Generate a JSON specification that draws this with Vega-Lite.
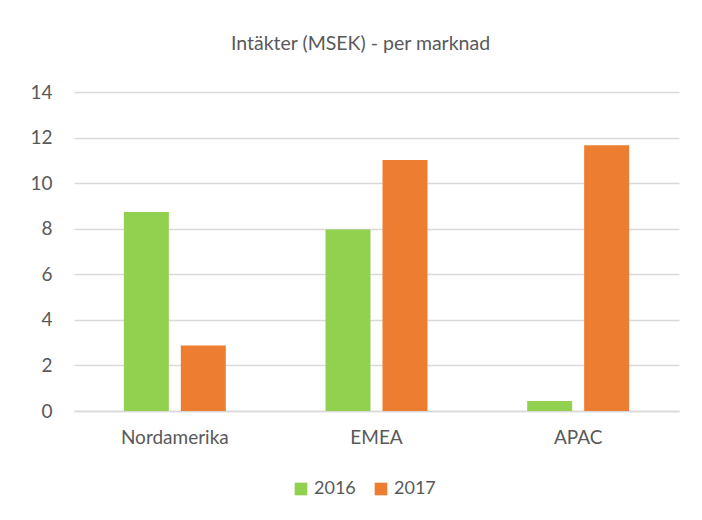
{
  "$schema": "https://vega.github.io/schema/vega-lite/v6.json",
  "autosize": "none",
  "width": 605,
  "height": 319,
  "padding": {"left": 74, "top": 92, "right": 23, "bottom": 109},
  "background": "white",
  "title": {"text": "Intäkter (MSEK) - per marknad", "font": "Lato", "fontSize": 19.5, "fontWeight": "normal", "color": "#595959", "anchor": "middle", "dx": -16, "offset": 29},
  "data": {"values": [
    {"marknad": "Nordamerika", "year": "2016", "value": 8.73},
    {"marknad": "Nordamerika", "year": "2017", "value": 2.88},
    {"marknad": "EMEA", "year": "2016", "value": 7.97},
    {"marknad": "EMEA", "year": "2017", "value": 11.02},
    {"marknad": "APAC", "year": "2016", "value": 0.44},
    {"marknad": "APAC", "year": "2017", "value": 11.66}
  ]},
  "mark": {"type": "bar"},
  "encoding": {
    "x": {"field": "marknad", "type": "nominal", "sort": ["Nordamerika", "EMEA", "APAC"],
      "scale": {"paddingInner": 0, "paddingOuter": 0},
      "axis": {"title": null, "labelAngle": 0, "ticks": false, "domain": true, "domainColor": "#d9d9d9", "domainWidth": 1.5, "labelPadding": 17, "labelFont": "Lato", "labelFontSize": 19, "labelColor": "#595959"}},
    "xOffset": {"field": "year", "type": "nominal", "scale": {"paddingInner": 0.2105, "paddingOuter": 0.875}},
    "y": {"field": "value", "type": "quantitative", "scale": {"domain": [0, 14]},
      "axis": {"title": null, "values": [0, 2, 4, 6, 8, 10, 12, 14], "ticks": false, "domain": false, "grid": true, "gridColor": "#d9d9d9", "gridWidth": 1.5, "labelPadding": 22, "labelFont": "Lato", "labelFontSize": 19, "labelColor": "#595959"}},
    "color": {"field": "year", "type": "nominal", "scale": {"domain": ["2016", "2017"], "range": ["#92D050", "#ED7D31"]},
      "legend": {"title": null, "orient": "none", "direction": "horizontal", "legendX": 218, "legendY": 388, "symbolType": "square", "symbolSize": 160, "symbolStrokeWidth": 0, "symbolOpacity": 1, "labelFont": "Lato", "labelFontSize": 18, "labelColor": "#595959", "columnPadding": 16, "labelOffset": 4}}
  },
  "config": {"view": {"stroke": null}}
}
